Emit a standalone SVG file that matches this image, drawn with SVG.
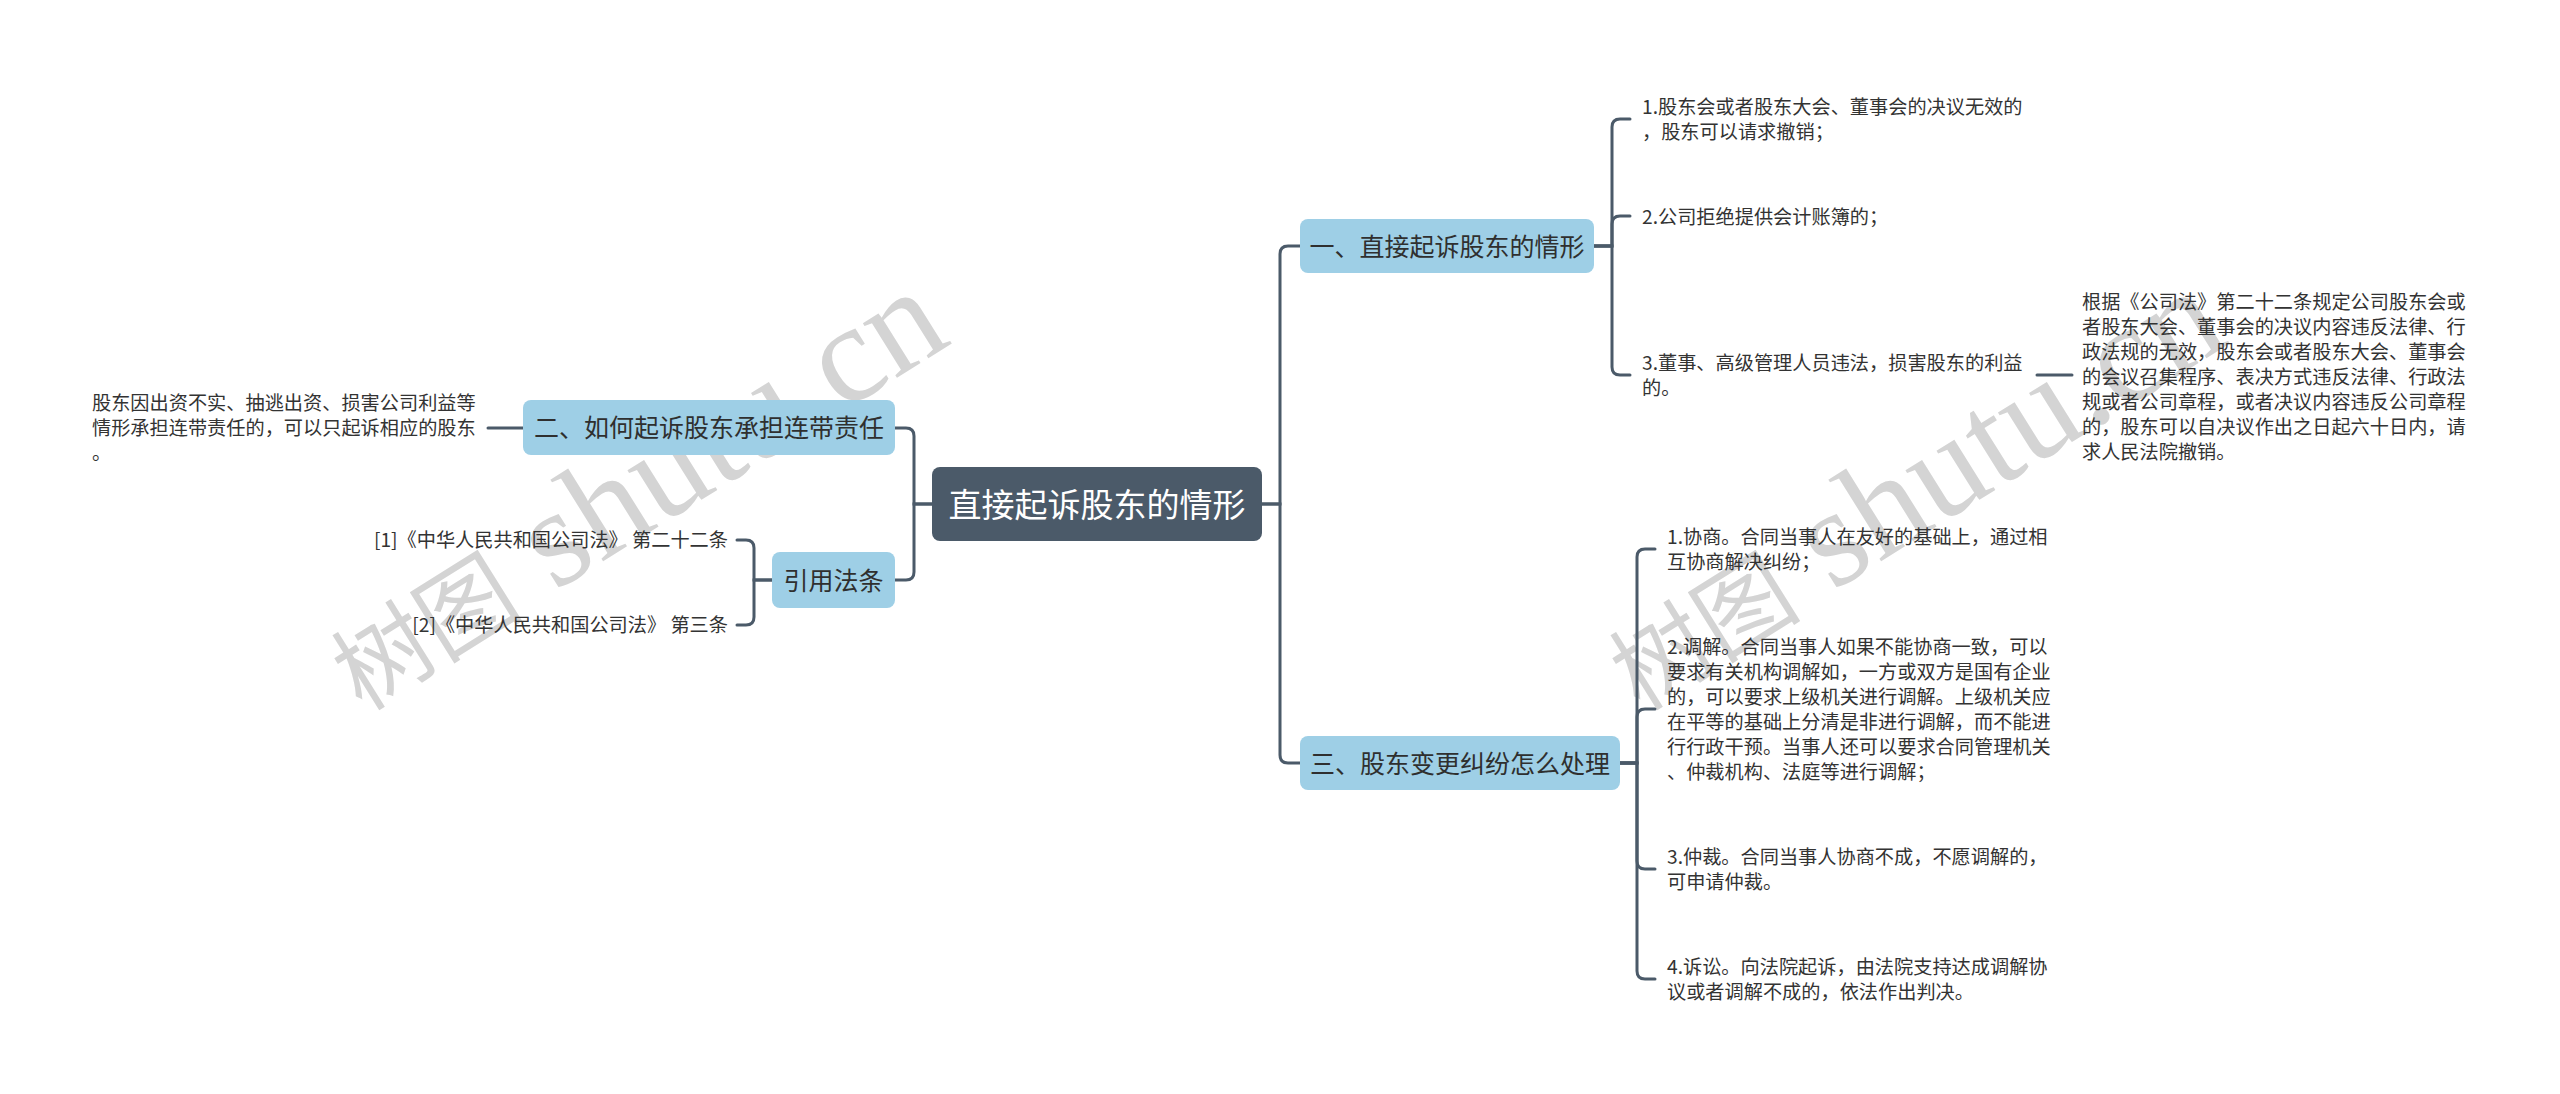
<svg xmlns="http://www.w3.org/2000/svg" width="2560" height="1094" viewBox="0 0 2560 1094">
<style>
.bg{fill:#ffffff}
.wm{fill:#d4d4d4;font-family:'Liberation Serif','Noto Sans CJK SC',serif}
.wmc{font-family:'Noto Sans CJK SC',serif;font-size:96px}
.wml{font-size:140px}
.root rect{fill:#4b5a69}
.root text{fill:#ffffff;font-family:'Noto Sans CJK SC','Noto Sans',sans-serif;font-size:33px;text-anchor:middle}
.main rect{fill:#9ecfe6}
.main text{fill:#2f2f2f;font-family:'Noto Sans CJK SC','Noto Sans',sans-serif;font-size:25px;text-anchor:middle}
.leaf text{fill:#333333;font-family:'Noto Sans CJK SC','Noto Sans',sans-serif;font-size:19.2px}
.conn path{fill:none;stroke:#4b5a69;stroke-width:3;stroke-linecap:round}
</style>
<rect class="bg" x="0" y="0" width="2560" height="1094"/>
<g id="watermarks">
<text class="wm" transform="translate(362,712) rotate(-32)"><tspan class="wmc">树图</tspan><tspan class="wml"> shutu.cn</tspan></text>
<text class="wm" transform="translate(1640,712) rotate(-32)"><tspan class="wmc">树图</tspan><tspan class="wml"> shutu.cn</tspan></text>
</g>
<g id="connectors" class="conn">
<path d="M1262,504 H1280 V254 Q1280,246 1288,246 H1300"/>
<path d="M1262,504 H1280 V755 Q1280,763 1288,763 H1300"/>
<path d="M932,504 H914 V436 Q914,428 906,428 H895"/>
<path d="M932,504 H914 V572 Q914,580 906,580 H895"/>
<path d="M1594,246 H1612 V127 Q1612,119 1620,119 H1630"/>
<path d="M1594,246 H1612 V224 Q1612,216 1620,216 H1630"/>
<path d="M1594,246 H1612 V367 Q1612,375 1620,375 H1630"/>
<path d="M2037,375 H2072"/>
<path d="M1620,763 H1637 V557 Q1637,549 1645,549 H1655"/>
<path d="M1620,763 H1637 V717 Q1637,709 1645,709 H1655"/>
<path d="M1620,763 H1637 V861 Q1637,869 1645,869 H1655"/>
<path d="M1620,763 H1637 V971 Q1637,979 1645,979 H1655"/>
<path d="M488,428 H523"/>
<path d="M772,580 H754 V548 Q754,540 746,540 H737"/>
<path d="M772,580 H754 V617 Q754,625 746,625 H737"/>
</g>
<g id="root" class="root">
<rect x="932" y="467" width="330" height="74" rx="8"/>
<text x="1097" y="516.5">直接起诉股东的情形</text>
</g>
<g id="node1" class="main">
<rect x="1300" y="219" width="294" height="54" rx="8"/>
<text x="1447" y="255.5">一、直接起诉股东的情形</text>
</g>
<g id="node3" class="main">
<rect x="1300" y="736" width="320" height="54" rx="8"/>
<text x="1460" y="772.5">三、股东变更纠纷怎么处理</text>
</g>
<g id="node2" class="main">
<rect x="523" y="400" width="372" height="55" rx="8"/>
<text x="709" y="437">二、如何起诉股东承担连带责任</text>
</g>
<g id="nodeRef" class="main">
<rect x="772" y="552" width="123" height="56" rx="8"/>
<text x="833.5" y="589.5">引用法条</text>
</g>
<g id="leaf1-1" class="leaf">
<text x="1642" y="114.3"><tspan x="1642">1.股东会或者股东大会、董事会的决议无效的</tspan><tspan x="1642" dy="25">，股东可以请求撤销；</tspan></text>
</g>
<g id="leaf1-2" class="leaf">
<text x="1642" y="224.3">2.公司拒绝提供会计账簿的；</text>
</g>
<g id="leaf1-3" class="leaf">
<text x="1642" y="370.3"><tspan x="1642">3.董事、高级管理人员违法，损害股东的利益</tspan><tspan x="1642" dy="25">的。</tspan></text>
</g>
<g id="leaf1-3-1" class="leaf">
<text x="2082" y="309.3"><tspan x="2082">根据《公司法》第二十二条规定公司股东会或</tspan><tspan x="2082" dy="25">者股东大会、董事会的决议内容违反法律、行</tspan><tspan x="2082" dy="25">政法规的无效，股东会或者股东大会、董事会</tspan><tspan x="2082" dy="25">的会议召集程序、表决方式违反法律、行政法</tspan><tspan x="2082" dy="25">规或者公司章程，或者决议内容违反公司章程</tspan><tspan x="2082" dy="25">的，股东可以自决议作出之日起六十日内，请</tspan><tspan x="2082" dy="25">求人民法院撤销。</tspan></text>
</g>
<g id="leaf3-1" class="leaf">
<text x="1667" y="544.3"><tspan x="1667">1.协商。合同当事人在友好的基础上，通过相</tspan><tspan x="1667" dy="25">互协商解决纠纷；</tspan></text>
</g>
<g id="leaf3-2" class="leaf">
<text x="1667" y="654.3"><tspan x="1667">2.调解。合同当事人如果不能协商一致，可以</tspan><tspan x="1667" dy="25">要求有关机构调解如，一方或双方是国有企业</tspan><tspan x="1667" dy="25">的，可以要求上级机关进行调解。上级机关应</tspan><tspan x="1667" dy="25">在平等的基础上分清是非进行调解，而不能进</tspan><tspan x="1667" dy="25">行行政干预。当事人还可以要求合同管理机关</tspan><tspan x="1667" dy="25">、仲裁机构、法庭等进行调解；</tspan></text>
</g>
<g id="leaf3-3" class="leaf">
<text x="1667" y="864.3"><tspan x="1667">3.仲裁。合同当事人协商不成，不愿调解的，</tspan><tspan x="1667" dy="25">可申请仲裁。</tspan></text>
</g>
<g id="leaf3-4" class="leaf">
<text x="1667" y="974.3"><tspan x="1667">4.诉讼。向法院起诉，由法院支持达成调解协</tspan><tspan x="1667" dy="25">议或者调解不成的，依法作出判决。</tspan></text>
</g>
<g id="leaf2-1" class="leaf">
<text x="92" y="410.3"><tspan x="92">股东因出资不实、抽逃出资、损害公司利益等</tspan><tspan x="92" dy="25">情形承担连带责任的，可以只起诉相应的股东</tspan><tspan x="92" dy="25">。</tspan></text>
</g>
<g id="ref1" class="leaf">
<text x="728" y="547.3" text-anchor="end">[1]《中华人民共和国公司法》 第二十二条</text>
</g>
<g id="ref2" class="leaf">
<text x="728" y="632.3" text-anchor="end">[2]《中华人民共和国公司法》 第三条</text>
</g>
</svg>
